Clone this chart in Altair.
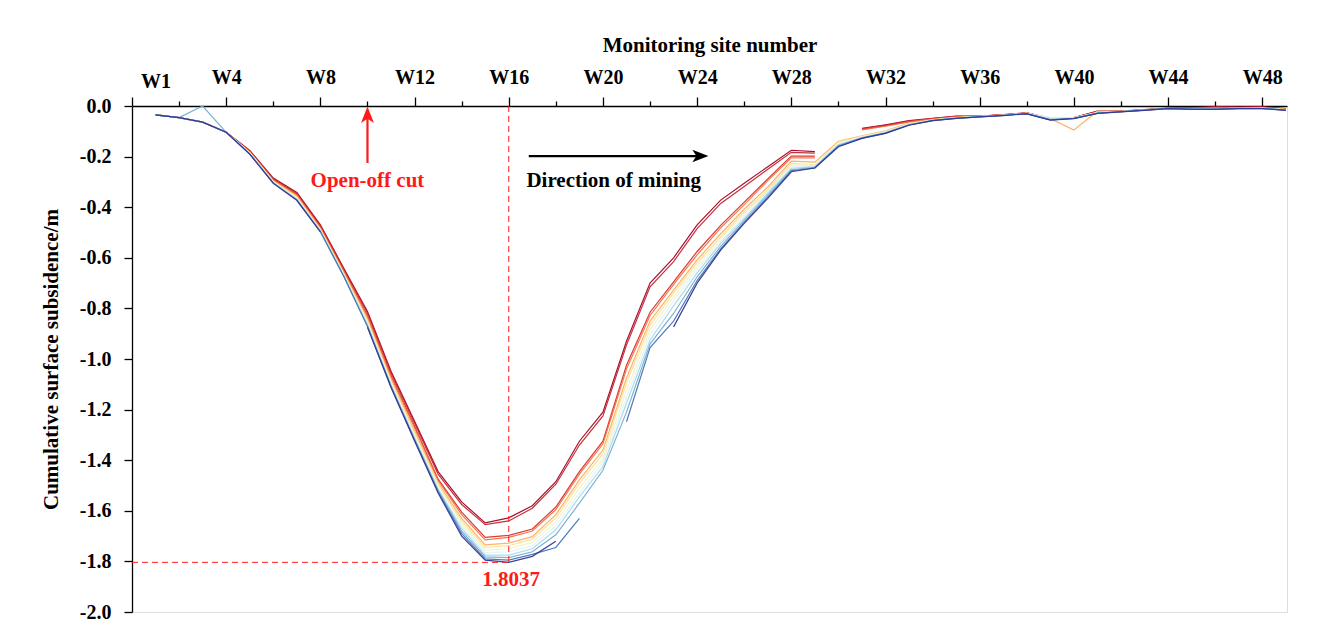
import altair as alt
import pandas as pd

sites = list(range(1, 50))
series_names = [f"S{i}" for i in range(1, 13)]
series_colors = ["#a50026", "#c1272d", "#d73027", "#f46d43", "#fdae61", "#fee090",
                 "#f3f1c8", "#e0f3f8", "#abd9e9", "#74add1", "#4575b4", "#313695"]

s1 = [-0.035, -0.046, -0.064, -0.104,
      -0.176, -0.285, -0.342, -0.470, -0.642, -0.812, -1.048, -1.246,
      -1.445, -1.565, -1.648, -1.628, -1.580, -1.485, -1.325, -1.210, -0.930, -0.700, -0.600, -0.470, -0.372, -0.305, -0.240, -0.175, -0.180,
      None, -0.088, -0.074, -0.058, -0.049, -0.040, -0.040, -0.034, -0.027, -0.048, -0.046, -0.020, -0.020, -0.014, -0.008, -0.006, -0.003, -0.004, -0.003, -0.010]
s2 = [-0.035, -0.046, -0.064, -0.104,
      -0.178, -0.288, -0.345, -0.474, -0.646, -0.818, -1.055, -1.253,
      -1.455, -1.575, -1.655, -1.640, -1.590, -1.495, -1.340, -1.225, -0.945, -0.715, -0.615, -0.485, -0.385, -0.318, -0.250, -0.183, -0.186,
      None, -0.090, -0.076, -0.060, -0.050, -0.041, -0.041, -0.035, -0.028, -0.050, -0.047, -0.021, -0.021, -0.015, -0.009, -0.007, -0.004, -0.005, -0.004, -0.011]
s3 = [-0.035, -0.046, -0.064, -0.104,
      -0.180, -0.291, -0.350, -0.478, -0.652, -0.828, -1.065, -1.265,
      -1.475, -1.605, -1.705, -1.697, -1.672, -1.585, -1.445, -1.325, -1.025, -0.815, -0.695, -0.575, -0.472, -0.380, -0.288, -0.198, -0.198,
      None, -0.092, -0.078, -0.062, -0.051, -0.042, -0.041, -0.035, -0.028, -0.051, -0.047, -0.022, -0.021, -0.015, -0.009, -0.008, -0.005, -0.006, -0.005, -0.012]
s4 = [-0.035, -0.046, -0.064, -0.104,
      -0.181, -0.293, -0.352, -0.481, -0.655, -0.833, -1.070, -1.272,
      -1.480, -1.615, -1.715, -1.705, -1.680, -1.595, -1.455, -1.335, -1.040, -0.828, -0.705, -0.588, -0.482, -0.390, -0.295, -0.205, -0.205,
      None, -0.094, -0.080, -0.063, -0.052, -0.043, -0.042, -0.036, -0.029, -0.052, -0.048, -0.024, -0.022, -0.016, -0.010, -0.009, -0.006, -0.007, -0.006, -0.012]
s5 = [-0.035, -0.046, -0.064, -0.104,
      -0.183, -0.296, -0.356, -0.485, -0.660, -0.842, -1.080, -1.285,
      -1.490, -1.630, -1.735, -1.728, -1.702, -1.615, -1.478, -1.360, -1.075, -0.850, -0.728, -0.608, -0.505, -0.408, -0.320, -0.218, -0.222,
      -0.140, -0.118, -0.098, -0.068, -0.054, -0.045, -0.041, -0.036, -0.028, -0.050, -0.095, -0.020, -0.021, -0.015, -0.009, -0.010, -0.010, -0.008, -0.008, -0.013]
s6 = [-0.035, -0.046, -0.064, -0.104,
      -0.184, -0.298, -0.360, -0.488, -0.664, -0.850, -1.088, -1.293,
      -1.495, -1.640, -1.745, -1.738, -1.712, -1.628, -1.492, -1.375, -1.095, -0.866, -0.740, -0.620, -0.517, -0.418, -0.332, -0.227, -0.233,
      -0.142, -0.120, -0.100, -0.070, -0.055, -0.046, -0.042, -0.036, -0.029, -0.052, -0.048, -0.025, -0.022, -0.016, -0.010, -0.011, -0.011, -0.009, -0.009, -0.014]
s7 = [-0.035, -0.046, -0.064, -0.104,
      -0.185, -0.300, -0.363, -0.490, -0.667, -0.856, -1.094, -1.300,
      -1.500, -1.650, -1.755, -1.750, -1.725, -1.645, -1.510, -1.395, -1.125, -0.885, -0.755, -0.632, -0.525, -0.425, -0.336, -0.233, -0.235,
      -0.145, -0.121, -0.102, -0.071, -0.056, -0.047, -0.042, -0.037, -0.029, -0.050, -0.047, -0.026, -0.022, -0.016, -0.010, -0.011, -0.011, -0.009, -0.009, -0.014]
s8 = [-0.035, -0.046, -0.064, -0.104,
      -0.187, -0.302, -0.366, -0.492, -0.670, -0.862, -1.100, -1.308,
      -1.510, -1.660, -1.765, -1.762, -1.738, -1.660, -1.530, -1.410, -1.150, -0.905, -0.770, -0.645, -0.535, -0.435, -0.340, -0.240, -0.238,
      -0.150, -0.123, -0.104, -0.072, -0.056, -0.047, -0.042, -0.037, -0.029, -0.045, -0.046, -0.027, -0.022, -0.016, -0.010, -0.011, -0.011, -0.009, -0.009, -0.015]
s9 = [-0.035, -0.046, -0.064, -0.104,
      -0.188, -0.303, -0.368, -0.494, -0.672, -0.866, -1.104, -1.313,
      -1.515, -1.670, -1.775, -1.775, -1.750, -1.675, -1.545, -1.425, -1.175, -0.925, -0.790, -0.660, -0.543, -0.444, -0.345, -0.246, -0.240,
      -0.153, -0.125, -0.105, -0.073, -0.057, -0.048, -0.042, -0.037, -0.030, -0.052, -0.048, -0.028, -0.022, -0.016, -0.010, -0.012, -0.012, -0.009, -0.009, -0.015]
s10 = [-0.035, -0.046, 0.000, -0.104,
       -0.189, -0.304, -0.370, -0.495, -0.674, -0.869, -1.107, -1.317,
       -1.520, -1.680, -1.782, -1.785, -1.762, -1.695, -1.570, -1.440, -1.210, -0.940, -0.820, -0.675, -0.555, -0.452, -0.352, -0.252, -0.242,
       -0.156, -0.126, -0.106, -0.074, -0.057, -0.048, -0.042, -0.037, -0.030, -0.054, -0.049, -0.028, -0.022, -0.016, -0.009, -0.012, -0.012, -0.009, -0.009, -0.016]
s11 = [-0.035, -0.046, -0.064, -0.104,
       -0.190, -0.305, -0.372, -0.497, -0.675, -0.872, -1.110, -1.320,
       -1.525, -1.690, -1.790, -1.795, -1.772, -1.745, -1.630, None, -1.248, -0.955, -0.850, -0.690, -0.565, -0.460, -0.360, -0.256, -0.245,
       -0.159, -0.127, -0.107, -0.075, -0.058, -0.049, -0.043, -0.037, -0.030, -0.055, -0.049, -0.029, -0.022, -0.016, -0.009, -0.012, -0.012, -0.009, -0.010, -0.016]
s12 = [-0.035, -0.046, -0.064, -0.104,
       -0.190, -0.306, -0.373, -0.498, None, -0.875, -1.113, -1.324,
       -1.530, -1.700, -1.795, -1.8037, -1.780, -1.720, None, None, None, None, -0.873, -0.700, -0.570, -0.464, -0.365, -0.260, -0.245,
       -0.161, -0.128, -0.108, -0.076, -0.058, -0.049, -0.043, -0.038, -0.031, -0.056, -0.050, -0.029, -0.023, -0.017, -0.010, -0.013, -0.013, -0.010, -0.010, -0.017]

all_series = [s1, s2, s3, s4, s5, s6, s7, s8, s9, s10, s11, s12]

rows = []
for k, (name, vals) in enumerate(zip(series_names, all_series)):
    for s, v in zip(sites, vals):
        rows.append({"site": s, "value": v, "series": name, "order": k})
df = pd.DataFrame(rows)

max_site = 16
max_value = -1.8037
x_tick_values = [0, 1] + list(range(2, 49, 2))
y_tick_values = [round(-2.0 + 0.1 * i, 1) for i in range(21)]

FONT = "Liberation Serif"
x_scale = alt.Scale(domain=[0, 49.05], nice=False, zero=False)
y_scale = alt.Scale(domain=[-2.0, 0.0], nice=False, zero=False)

axis_style = dict(
    labelFont=FONT, titleFont=FONT, labelFontWeight="bold", titleFontWeight="bold",
    labelColor="black", titleColor="black", domainColor="black", tickColor="black",
    domainWidth=1.3, tickWidth=1.3, grid=False,
)

lines = alt.Chart(df).mark_line(strokeWidth=1.2, opacity=0.95).encode(
    x=alt.X("site:Q", scale=x_scale, axis=alt.Axis(
        orient="top", values=x_tick_values,
        labelExpr="datum.value == 1 || (datum.value > 0 && datum.value % 4 == 0) ? 'W' + datum.value : ''",
        tickSize={"condition": {"test": "datum.value % 4 == 0", "value": 9}, "value": 5},
        tickOpacity={"condition": {"test": "datum.value == 1", "value": 0}, "value": 1},
        title="Monitoring site number", titlePadding=12, labelPadding=10,
        labelFontSize=20, titleFontSize=21, labelFlush=False, **axis_style,
    )),
    y=alt.Y("value:Q", scale=y_scale, axis=alt.Axis(
        values=y_tick_values,
        labelExpr="abs(round(datum.value * 10)) % 2 == 0 ? (datum.value < 0 ? '-' : '') + format(abs(datum.value), '.1f') : ''",
        tickSize={"condition": {"test": "abs(round(datum.value * 10)) % 2 == 0", "value": 8}, "value": 4},
        title="Cumulative surface subsidence/m", titlePadding=18, labelPadding=13,
        labelFontSize=20, titleFontSize=21, **axis_style,
    )),
    color=alt.Color("series:N", scale=alt.Scale(domain=series_names, range=series_colors), legend=None),
    order=alt.Order("order:Q"),
)

red = "#ff1a1a"
TXT = 21
vline = alt.Chart(pd.DataFrame({"x": [max_site], "y": [0.0], "y2": [max_value]})).mark_rule(
    color=red, strokeDash=[6, 4], strokeWidth=1).encode(x="x:Q", y="y:Q", y2="y2:Q")
hline = alt.Chart(pd.DataFrame({"x": [0.0], "x2": [max_site], "y": [max_value]})).mark_rule(
    color=red, strokeDash=[6, 4], strokeWidth=1).encode(x="x:Q", x2="x2:Q", y="y:Q")
max_label = alt.Chart(pd.DataFrame({"x": [16.1], "y": [-1.873], "t": ["1.8037"]})).mark_text(
    color=red, font=FONT, fontWeight="bold", fontSize=TXT, align="center", baseline="middle"
).encode(x="x:Q", y="y:Q", text="t:N")

cut_shaft = alt.Chart(pd.DataFrame({"x": [10.0], "y": [-0.225], "y2": [-0.04]})).mark_rule(
    color=red, strokeWidth=2.2).encode(x="x:Q", y="y:Q", y2="y2:Q")
cut_head = alt.Chart(pd.DataFrame({"x": [10.0], "y": [-0.038]})).mark_point(
    shape="M0,-1 L0.7,0.8 L0,0.35 L-0.7,0.8 Z", size=340, filled=True, color=red, opacity=1
).encode(x="x:Q", y="y:Q")
cut_text = alt.Chart(pd.DataFrame({"x": [10.0], "y": [-0.296], "t": ["Open-off cut"]})).mark_text(
    color=red, font=FONT, fontWeight="bold", fontSize=TXT, align="center", baseline="middle"
).encode(x="x:Q", y="y:Q", text="t:N")

dir_shaft = alt.Chart(pd.DataFrame({"x": [16.85], "x2": [24.1], "y": [-0.198]})).mark_rule(
    color="black", strokeWidth=2.2).encode(x="x:Q", x2="x2:Q", y="y:Q")
dir_head = alt.Chart(pd.DataFrame({"x": [24.1], "y": [-0.198]})).mark_point(
    shape="M1,0 L-0.8,-0.7 L-0.35,0 L-0.8,0.7 Z", size=320, filled=True, color="black", opacity=1
).encode(x="x:Q", y="y:Q")
dir_text = alt.Chart(pd.DataFrame({"x": [16.75], "y": [-0.296], "t": ["Direction of mining"]})).mark_text(
    color="black", font=FONT, fontWeight="bold", fontSize=TXT, align="left", baseline="middle"
).encode(x="x:Q", y="y:Q", text="t:N")

chart = alt.layer(
    lines, vline, hline, max_label, cut_shaft, cut_head, cut_text, dir_shaft, dir_head, dir_text
).properties(
    width=1155, height=506,
    autosize=alt.AutoSizeParams(type="none"),
    padding={"left": 132, "top": 106, "right": 30, "bottom": 10},
).configure_view(stroke=None).configure(background="white")

chart.save("out.html", embed_options={"renderer": "svg", "actions": False})
